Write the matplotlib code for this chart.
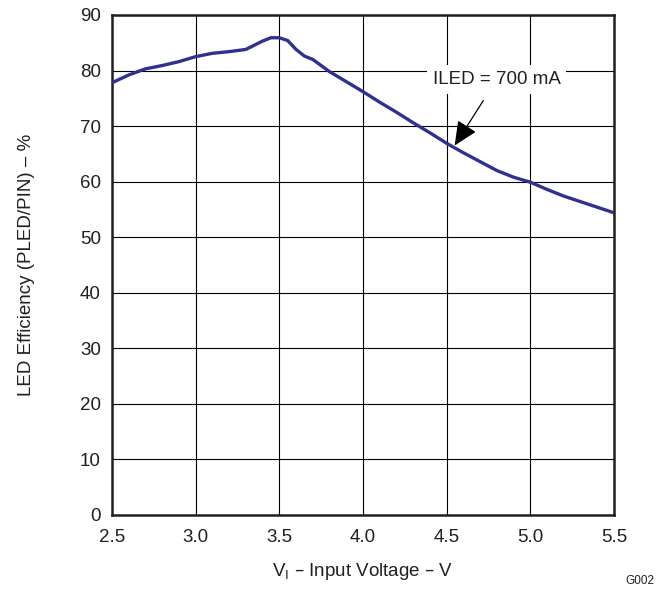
import matplotlib
matplotlib.use("Agg")
import matplotlib.pyplot as plt

# LED efficiency vs input voltage, ILED = 700 mA

vin = [2.5, 2.6, 2.7, 2.8, 2.9, 3.0, 3.1, 3.2, 3.3, 3.4, 3.45, 3.5, 3.55,
       3.6, 3.65, 3.7, 3.8, 3.9, 4.0, 4.1, 4.2, 4.3, 4.4, 4.5, 4.6, 4.7,
       4.8, 4.9, 5.0, 5.1, 5.2, 5.3, 5.4, 5.5]
eff = [77.8, 79.2, 80.3, 80.9, 81.6, 82.5, 83.1, 83.4, 83.8, 85.3, 85.9,
       85.9, 85.4, 83.8, 82.6, 82.0, 79.8, 78.0, 76.2, 74.3, 72.5, 70.6,
       68.8, 66.9, 65.2, 63.6, 62.0, 60.8, 59.9, 58.6, 57.4, 56.4, 55.4,
       54.4]
xticks = [2.5, 3.0, 3.5, 4.0, 4.5, 5.0, 5.5]
yticks = [0, 10, 20, 30, 40, 50, 60, 70, 80, 90]

plt.rcParams["font.family"] = ["Liberation Sans", "DejaVu Sans"]
FS = 13.5

fig = plt.figure(figsize=(6.56, 5.94), dpi=100)
ax = fig.add_axes([0.1707, 0.133, 0.7652, 0.8418])

ax.plot(vin, eff, color="#2e3192", lw=2.4, solid_capstyle="round", zorder=3)

ax.set_xlim(2.5, 5.5)
ax.set_ylim(0, 90)
ax.set_xticks(xticks)
ax.set_xticklabels(["%.1f" % v for v in xticks])
ax.set_yticks(yticks)
ax.tick_params(length=0, labelsize=FS, colors="#231f20")
ax.tick_params(axis="x", pad=10)
ax.tick_params(axis="y", pad=8)
ax.grid(True, color="black", lw=0.8)
for s in ax.spines.values():
    s.set_linewidth(1.8)
    s.set_color("#231f20")

ax.set_xlabel("V$_\\mathregular{I}$ – Input Voltage – V", fontsize=FS,
              color="#231f20", labelpad=11)
ax.set_ylabel("LED Efficiency (PLED/PIN) – %", fontsize=FS, color="#231f20",
              labelpad=32)

ax.annotate("ILED = 700 mA", xy=(4.548, 66.5), xytext=(4.80, 78.4),
            fontsize=FS, color="#231f20", ha="center", va="center",
            bbox=dict(boxstyle="square,pad=0.3", fc="white", ec="none"),
            arrowprops=dict(arrowstyle="-|>,head_length=1.1,head_width=0.5",
                            color="black", lw=0.9, shrinkA=6, shrinkB=0),
            zorder=4)

fig.text(0.998, 0.016, "G002", fontsize=8.5, color="#231f20", ha="right")

fig.savefig("out.png", dpi=100)
